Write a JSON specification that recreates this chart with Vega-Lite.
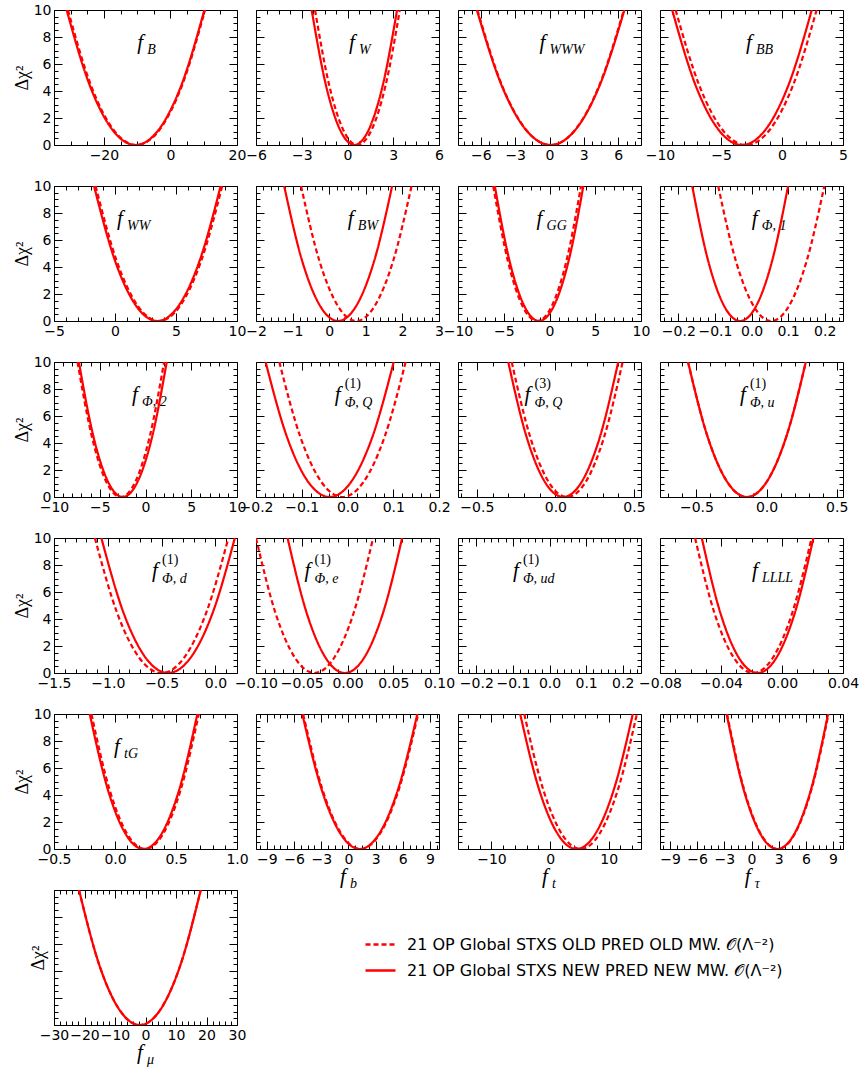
{
"$schema": "https://vega.github.io/schema/vega-lite/v6.json",
"padding": {"left": 12, "top": 2, "right": 0, "bottom": 0},
"autosize": {"type": "pad"},
"background": "white",
"bounds": "flush",
"columns": 4,
"spacing": {"row": 41, "column": 19},
"datasets": {
"c": [
{"p":"B","s":"N","x":-31.2,"y":10},{"p":"B","s":"N","x":-24.3,"y":4.444},{"p":"B","s":"N","x":-17.4,"y":1.111},{"p":"B","s":"N","x":-10.5,"y":0},{"p":"B","s":"N","x":-3.6,"y":1.111},{"p":"B","s":"N","x":3.3,"y":4.444},{"p":"B","s":"N","x":10.2,"y":10},
{"p":"B","s":"O","x":-30.8,"y":10},{"p":"B","s":"O","x":-23.93,"y":4.444},{"p":"B","s":"O","x":-17.07,"y":1.111},{"p":"B","s":"O","x":-10.2,"y":0},{"p":"B","s":"O","x":-3.33,"y":1.111},{"p":"B","s":"O","x":3.53,"y":4.444},{"p":"B","s":"O","x":10.4,"y":10},
{"p":"W","s":"N","x":-2.35,"y":10},{"p":"W","s":"N","x":-1.417,"y":4.444},{"p":"W","s":"N","x":-0.483,"y":1.111},{"p":"W","s":"N","x":0.45,"y":0},{"p":"W","s":"N","x":1.383,"y":1.111},{"p":"W","s":"N","x":2.317,"y":4.444},{"p":"W","s":"N","x":3.25,"y":10},
{"p":"W","s":"O","x":-2.13,"y":10},{"p":"W","s":"O","x":-1.203,"y":4.444},{"p":"W","s":"O","x":-0.277,"y":1.111},{"p":"W","s":"O","x":0.65,"y":0},{"p":"W","s":"O","x":1.577,"y":1.111},{"p":"W","s":"O","x":2.503,"y":4.444},{"p":"W","s":"O","x":3.43,"y":10},
{"p":"WWW","s":"N","x":-6.35,"y":10},{"p":"WWW","s":"N","x":-4.2,"y":4.444},{"p":"WWW","s":"N","x":-2.05,"y":1.111},{"p":"WWW","s":"N","x":0.1,"y":0},{"p":"WWW","s":"N","x":2.25,"y":1.111},{"p":"WWW","s":"N","x":4.4,"y":4.444},{"p":"WWW","s":"N","x":6.55,"y":10},
{"p":"WWW","s":"O","x":-6.3,"y":10},{"p":"WWW","s":"O","x":-4.167,"y":4.444},{"p":"WWW","s":"O","x":-2.033,"y":1.111},{"p":"WWW","s":"O","x":0.1,"y":0},{"p":"WWW","s":"O","x":2.233,"y":1.111},{"p":"WWW","s":"O","x":4.367,"y":4.444},{"p":"WWW","s":"O","x":6.5,"y":10},
{"p":"BB","s":"N","x":-9.0,"y":10},{"p":"BB","s":"N","x":-7.093,"y":4.444},{"p":"BB","s":"N","x":-5.187,"y":1.111},{"p":"BB","s":"N","x":-3.28,"y":0},{"p":"BB","s":"N","x":-1.373,"y":1.111},{"p":"BB","s":"N","x":0.533,"y":4.444},{"p":"BB","s":"N","x":2.44,"y":10},
{"p":"BB","s":"O","x":-8.72,"y":10},{"p":"BB","s":"O","x":-6.793,"y":4.444},{"p":"BB","s":"O","x":-4.867,"y":1.111},{"p":"BB","s":"O","x":-2.94,"y":0},{"p":"BB","s":"O","x":-1.013,"y":1.111},{"p":"BB","s":"O","x":0.913,"y":4.444},{"p":"BB","s":"O","x":2.84,"y":10},
{"p":"WW","s":"N","x":-1.72,"y":10},{"p":"WW","s":"N","x":0.01,"y":4.444},{"p":"WW","s":"N","x":1.74,"y":1.111},{"p":"WW","s":"N","x":3.47,"y":0},{"p":"WW","s":"N","x":5.2,"y":1.111},{"p":"WW","s":"N","x":6.93,"y":4.444},{"p":"WW","s":"N","x":8.66,"y":10},
{"p":"WW","s":"O","x":-1.59,"y":10},{"p":"WW","s":"O","x":0.14,"y":4.444},{"p":"WW","s":"O","x":1.87,"y":1.111},{"p":"WW","s":"O","x":3.6,"y":0},{"p":"WW","s":"O","x":5.33,"y":1.111},{"p":"WW","s":"O","x":7.06,"y":4.444},{"p":"WW","s":"O","x":8.79,"y":10},
{"p":"BW","s":"N","x":-1.23,"y":10},{"p":"BW","s":"N","x":-0.738,"y":4.444},{"p":"BW","s":"N","x":-0.247,"y":1.111},{"p":"BW","s":"N","x":0.245,"y":0},{"p":"BW","s":"N","x":0.737,"y":1.111},{"p":"BW","s":"N","x":1.228,"y":4.444},{"p":"BW","s":"N","x":1.72,"y":10},
{"p":"BW","s":"O","x":-0.77,"y":10},{"p":"BW","s":"O","x":-0.267,"y":4.444},{"p":"BW","s":"O","x":0.237,"y":1.111},{"p":"BW","s":"O","x":0.74,"y":0},{"p":"BW","s":"O","x":1.243,"y":1.111},{"p":"BW","s":"O","x":1.747,"y":4.444},{"p":"BW","s":"O","x":2.25,"y":10},
{"p":"GG","s":"N","x":-5.98,"y":10},{"p":"GG","s":"N","x":-4.367,"y":4.444},{"p":"GG","s":"N","x":-2.753,"y":1.111},{"p":"GG","s":"N","x":-1.14,"y":0},{"p":"GG","s":"N","x":0.473,"y":1.111},{"p":"GG","s":"N","x":2.087,"y":4.444},{"p":"GG","s":"N","x":3.7,"y":10},
{"p":"GG","s":"O","x":-6.15,"y":10},{"p":"GG","s":"O","x":-4.55,"y":4.444},{"p":"GG","s":"O","x":-2.95,"y":1.111},{"p":"GG","s":"O","x":-1.35,"y":0},{"p":"GG","s":"O","x":0.25,"y":1.111},{"p":"GG","s":"O","x":1.85,"y":4.444},{"p":"GG","s":"O","x":3.45,"y":10},
{"p":"P1","s":"N","x":-0.162,"y":10},{"p":"P1","s":"N","x":-0.1183,"y":4.444},{"p":"P1","s":"N","x":-0.0747,"y":1.111},{"p":"P1","s":"N","x":-0.031,"y":0},{"p":"P1","s":"N","x":0.0127,"y":1.111},{"p":"P1","s":"N","x":0.0563,"y":4.444},{"p":"P1","s":"N","x":0.1,"y":10},
{"p":"P1","s":"O","x":-0.091,"y":10},{"p":"P1","s":"O","x":-0.0427,"y":4.444},{"p":"P1","s":"O","x":0.0057,"y":1.111},{"p":"P1","s":"O","x":0.054,"y":0},{"p":"P1","s":"O","x":0.1023,"y":1.111},{"p":"P1","s":"O","x":0.1507,"y":4.444},{"p":"P1","s":"O","x":0.199,"y":10},
{"p":"P2","s":"N","x":-7.28,"y":10},{"p":"P2","s":"N","x":-5.68,"y":4.444},{"p":"P2","s":"N","x":-4.08,"y":1.111},{"p":"P2","s":"N","x":-2.48,"y":0},{"p":"P2","s":"N","x":-0.88,"y":1.111},{"p":"P2","s":"N","x":0.72,"y":4.444},{"p":"P2","s":"N","x":2.32,"y":10},
{"p":"P2","s":"O","x":-7.43,"y":10},{"p":"P2","s":"O","x":-5.853,"y":4.444},{"p":"P2","s":"O","x":-4.277,"y":1.111},{"p":"P2","s":"O","x":-2.7,"y":0},{"p":"P2","s":"O","x":-1.123,"y":1.111},{"p":"P2","s":"O","x":0.453,"y":4.444},{"p":"P2","s":"O","x":2.03,"y":10},
{"p":"PQ1","s":"N","x":-0.179,"y":10},{"p":"PQ1","s":"N","x":-0.1323,"y":4.444},{"p":"PQ1","s":"N","x":-0.0857,"y":1.111},{"p":"PQ1","s":"N","x":-0.039,"y":0},{"p":"PQ1","s":"N","x":0.0077,"y":1.111},{"p":"PQ1","s":"N","x":0.0543,"y":4.444},{"p":"PQ1","s":"N","x":0.101,"y":10},
{"p":"PQ1","s":"O","x":-0.149,"y":10},{"p":"PQ1","s":"O","x":-0.103,"y":4.444},{"p":"PQ1","s":"O","x":-0.057,"y":1.111},{"p":"PQ1","s":"O","x":-0.011,"y":0},{"p":"PQ1","s":"O","x":0.035,"y":1.111},{"p":"PQ1","s":"O","x":0.081,"y":4.444},{"p":"PQ1","s":"O","x":0.127,"y":10},
{"p":"PQ3","s":"N","x":-0.3,"y":10},{"p":"PQ3","s":"N","x":-0.1833,"y":4.444},{"p":"PQ3","s":"N","x":-0.0667,"y":1.111},{"p":"PQ3","s":"N","x":0.05,"y":0},{"p":"PQ3","s":"N","x":0.1667,"y":1.111},{"p":"PQ3","s":"N","x":0.2833,"y":4.444},{"p":"PQ3","s":"N","x":0.4,"y":10},
{"p":"PQ3","s":"O","x":-0.278,"y":10},{"p":"PQ3","s":"O","x":-0.1603,"y":4.444},{"p":"PQ3","s":"O","x":-0.0427,"y":1.111},{"p":"PQ3","s":"O","x":0.075,"y":0},{"p":"PQ3","s":"O","x":0.1927,"y":1.111},{"p":"PQ3","s":"O","x":0.3103,"y":4.444},{"p":"PQ3","s":"O","x":0.428,"y":10},
{"p":"Pu","s":"N","x":-0.56,"y":10},{"p":"Pu","s":"N","x":-0.42,"y":4.444},{"p":"Pu","s":"N","x":-0.28,"y":1.111},{"p":"Pu","s":"N","x":-0.14,"y":0},{"p":"Pu","s":"N","x":0.0,"y":1.111},{"p":"Pu","s":"N","x":0.14,"y":4.444},{"p":"Pu","s":"N","x":0.28,"y":10},
{"p":"Pu","s":"O","x":-0.56,"y":10},{"p":"Pu","s":"O","x":-0.42,"y":4.444},{"p":"Pu","s":"O","x":-0.28,"y":1.111},{"p":"Pu","s":"O","x":-0.14,"y":0},{"p":"Pu","s":"O","x":0.0,"y":1.111},{"p":"Pu","s":"O","x":0.14,"y":4.444},{"p":"Pu","s":"O","x":0.28,"y":10},
{"p":"Pd","s":"N","x":-1.06,"y":10},{"p":"Pd","s":"N","x":-0.8533,"y":4.444},{"p":"Pd","s":"N","x":-0.6467,"y":1.111},{"p":"Pd","s":"N","x":-0.44,"y":0},{"p":"Pd","s":"N","x":-0.2333,"y":1.111},{"p":"Pd","s":"N","x":-0.0267,"y":4.444},{"p":"Pd","s":"N","x":0.18,"y":10},
{"p":"Pd","s":"O","x":-1.12,"y":10},{"p":"Pd","s":"O","x":-0.9133,"y":4.444},{"p":"Pd","s":"O","x":-0.7067,"y":1.111},{"p":"Pd","s":"O","x":-0.5,"y":0},{"p":"Pd","s":"O","x":-0.2933,"y":1.111},{"p":"Pd","s":"O","x":-0.0867,"y":4.444},{"p":"Pd","s":"O","x":0.12,"y":10},
{"p":"Pe","s":"N","x":-0.0655,"y":10},{"p":"Pe","s":"N","x":-0.0446,"y":4.444},{"p":"Pe","s":"N","x":-0.0238,"y":1.111},{"p":"Pe","s":"N","x":-0.0029,"y":0},{"p":"Pe","s":"N","x":0.018,"y":1.111},{"p":"Pe","s":"N","x":0.0388,"y":4.444},{"p":"Pe","s":"N","x":0.0597,"y":10},
{"p":"Pe","s":"O","x":-0.1,"y":10},{"p":"Pe","s":"O","x":-0.0787,"y":4.444},{"p":"Pe","s":"O","x":-0.0573,"y":1.111},{"p":"Pe","s":"O","x":-0.036,"y":0},{"p":"Pe","s":"O","x":-0.0147,"y":1.111},{"p":"Pe","s":"O","x":0.0067,"y":4.444},{"p":"Pe","s":"O","x":0.028,"y":10},
{"p":"LLLL","s":"N","x":-0.0526,"y":10},{"p":"LLLL","s":"N","x":-0.0404,"y":4.444},{"p":"LLLL","s":"N","x":-0.0282,"y":1.111},{"p":"LLLL","s":"N","x":-0.016,"y":0},{"p":"LLLL","s":"N","x":-0.0038,"y":1.111},{"p":"LLLL","s":"N","x":0.0084,"y":4.444},{"p":"LLLL","s":"N","x":0.0206,"y":10},
{"p":"LLLL","s":"O","x":-0.057,"y":10},{"p":"LLLL","s":"O","x":-0.0443,"y":4.444},{"p":"LLLL","s":"O","x":-0.0315,"y":1.111},{"p":"LLLL","s":"O","x":-0.0188,"y":0},{"p":"LLLL","s":"O","x":-0.0061,"y":1.111},{"p":"LLLL","s":"O","x":0.0067,"y":4.444},{"p":"LLLL","s":"O","x":0.0194,"y":10},
{"p":"tG","s":"N","x":-0.207,"y":10},{"p":"tG","s":"N","x":-0.06,"y":4.444},{"p":"tG","s":"N","x":0.087,"y":1.111},{"p":"tG","s":"N","x":0.234,"y":0},{"p":"tG","s":"N","x":0.381,"y":1.111},{"p":"tG","s":"N","x":0.528,"y":4.444},{"p":"tG","s":"N","x":0.675,"y":10},
{"p":"tG","s":"O","x":-0.193,"y":10},{"p":"tG","s":"O","x":-0.0463,"y":4.444},{"p":"tG","s":"O","x":0.1003,"y":1.111},{"p":"tG","s":"O","x":0.247,"y":0},{"p":"tG","s":"O","x":0.3937,"y":1.111},{"p":"tG","s":"O","x":0.5403,"y":4.444},{"p":"tG","s":"O","x":0.687,"y":10},
{"p":"b","s":"N","x":-5.09,"y":10},{"p":"b","s":"N","x":-2.973,"y":4.444},{"p":"b","s":"N","x":-0.857,"y":1.111},{"p":"b","s":"N","x":1.26,"y":0},{"p":"b","s":"N","x":3.377,"y":1.111},{"p":"b","s":"N","x":5.493,"y":4.444},{"p":"b","s":"N","x":7.61,"y":10},
{"p":"b","s":"O","x":-5.0,"y":10},{"p":"b","s":"O","x":-2.883,"y":4.444},{"p":"b","s":"O","x":-0.767,"y":1.111},{"p":"b","s":"O","x":1.35,"y":0},{"p":"b","s":"O","x":3.467,"y":1.111},{"p":"b","s":"O","x":5.583,"y":4.444},{"p":"b","s":"O","x":7.7,"y":10},
{"p":"t","s":"N","x":-5.1,"y":10},{"p":"t","s":"N","x":-1.9,"y":4.444},{"p":"t","s":"N","x":1.3,"y":1.111},{"p":"t","s":"N","x":4.5,"y":0},{"p":"t","s":"N","x":7.7,"y":1.111},{"p":"t","s":"N","x":10.9,"y":4.444},{"p":"t","s":"N","x":14.1,"y":10},
{"p":"t","s":"O","x":-4.4,"y":10},{"p":"t","s":"O","x":-1.2,"y":4.444},{"p":"t","s":"O","x":2.0,"y":1.111},{"p":"t","s":"O","x":5.2,"y":0},{"p":"t","s":"O","x":8.4,"y":1.111},{"p":"t","s":"O","x":11.6,"y":4.444},{"p":"t","s":"O","x":14.8,"y":10},
{"p":"tau","s":"N","x":-2.75,"y":10},{"p":"tau","s":"N","x":-0.883,"y":4.444},{"p":"tau","s":"N","x":0.983,"y":1.111},{"p":"tau","s":"N","x":2.85,"y":0},{"p":"tau","s":"N","x":4.717,"y":1.111},{"p":"tau","s":"N","x":6.583,"y":4.444},{"p":"tau","s":"N","x":8.45,"y":10},
{"p":"tau","s":"O","x":-2.7,"y":10},{"p":"tau","s":"O","x":-0.833,"y":4.444},{"p":"tau","s":"O","x":1.033,"y":1.111},{"p":"tau","s":"O","x":2.9,"y":0},{"p":"tau","s":"O","x":4.767,"y":1.111},{"p":"tau","s":"O","x":6.633,"y":4.444},{"p":"tau","s":"O","x":8.5,"y":10},
{"p":"mu","s":"N","x":-21.8,"y":10},{"p":"mu","s":"N","x":-15.15,"y":4.444},{"p":"mu","s":"N","x":-8.5,"y":1.111},{"p":"mu","s":"N","x":-1.85,"y":0},{"p":"mu","s":"N","x":4.8,"y":1.111},{"p":"mu","s":"N","x":11.45,"y":4.444},{"p":"mu","s":"N","x":18.1,"y":10},
{"p":"mu","s":"O","x":-21.8,"y":10},{"p":"mu","s":"O","x":-15.15,"y":4.444},{"p":"mu","s":"O","x":-8.5,"y":1.111},{"p":"mu","s":"O","x":-1.85,"y":0},{"p":"mu","s":"O","x":4.8,"y":1.111},{"p":"mu","s":"O","x":11.45,"y":4.444},{"p":"mu","s":"O","x":18.1,"y":10}
]
},
"concat": [
{"width":183,"height":135,"layer":[
 {"data":{"name":"c"},"transform":[{"filter":"datum.p == 'B'"}],"mark":{"type":"line","color":"#ff0000","strokeWidth":2.2,"interpolate":"monotone","clip":true},
  "encoding":{
   "x":{"field":"x","type":"quantitative","scale":{"domain":[-35,20],"nice":false,"zero":false},"axis":{"orient":"bottom","values":[-35,-30,-25,-20,-15,-10,-5,0,5,10,15,20],"format":".0f","labelExpr":"abs(datum.value/20-round(datum.value/20))<1e-6 ? datum.label : ''","tickSize":{"condition":{"test":"abs(datum.value/20-round(datum.value/20))<1e-6","value":-8},"value":-4},"labelPadding":11,"title":null}},
   "y":{"field":"y","type":"quantitative","scale":{"domain":[0,10],"nice":false},"axis":{"orient":"left","values":[0,0.5,1,1.5,2,2.5,3,3.5,4,4.5,5,5.5,6,6.5,7,7.5,8,8.5,9,9.5,10],"format":".0f","labelExpr":"datum.value % 2 == 0 ? datum.label : ''","tickSize":{"condition":{"test":"datum.value % 2 == 0","value":-8},"value":-4},"labelPadding":11,"title":"Δχ²","titlePadding":2}},
   "strokeDash":{"field":"s","type":"nominal","scale":{"domain":["O","N"],"range":[[5,3],[1,0]]},"legend":{"orient":"none","legendX":310,"legendY":918,"title":null,"labelExpr":"datum.value == 'O' ? '21 OP Global STXS OLD PRED OLD MW. 𝒪(Λ⁻²)' : '21 OP Global STXS NEW PRED NEW MW. 𝒪(Λ⁻²)'","symbolType":"stroke","symbolSize":900,"symbolStrokeWidth":2.5,"symbolStrokeColor":"#ff0000","labelFont":"DejaVu Sans","labelFontSize":16,"labelColor":"#000","labelOffset":10,"rowPadding":1,"labelLimit":600}}}},
 {"data":{"values":[{}]},"mark":{"type":"text","text":"f","font":"Liberation Serif","fontStyle":"italic","fontSize":21,"align":"left","baseline":"alphabetic"},
  "encoding":{"x":{"datum":-10,"type":"quantitative","axis":{"orient":"top","values":[-35,-30,-25,-20,-15,-10,-5,0,5,10,15,20],"labels":false,"tickSize":{"condition":{"test":"abs(datum.value/20-round(datum.value/20))<1e-6","value":-8},"value":-4},"title":null}},
   "y":{"datum":7.1,"type":"quantitative","axis":{"orient":"right","values":[0,0.5,1,1.5,2,2.5,3,3.5,4,4.5,5,5.5,6,6.5,7,7.5,8,8.5,9,9.5,10],"labels":false,"tickSize":{"condition":{"test":"datum.value % 2 == 0","value":-8},"value":-4},"title":null}}}},
 {"data":{"values":[{}]},"mark":{"type":"text","text":"B","font":"Liberation Serif","fontStyle":"italic","fontSize":14,"align":"left","baseline":"alphabetic","dx":10,"dy":5},
  "encoding":{"x":{"datum":-10,"type":"quantitative","axis":null},"y":{"datum":7.1,"type":"quantitative","axis":null}}}
],"resolve":{"axis":{"x":"independent","y":"independent"}}},

{"width":183,"height":135,"layer":[
 {"data":{"name":"c"},"transform":[{"filter":"datum.p == 'W'"}],"mark":{"type":"line","color":"#ff0000","strokeWidth":2.2,"interpolate":"monotone","clip":true},
  "encoding":{
   "x":{"field":"x","type":"quantitative","scale":{"domain":[-6,6],"nice":false,"zero":false},"axis":{"orient":"bottom","values":[-6,-5.25,-4.5,-3.75,-3,-2.25,-1.5,-0.75,0,0.75,1.5,2.25,3,3.75,4.5,5.25,6],"format":".0f","labelExpr":"abs(datum.value/3-round(datum.value/3))<1e-6 ? datum.label : ''","tickSize":{"condition":{"test":"abs(datum.value/3-round(datum.value/3))<1e-6","value":-8},"value":-4},"labelPadding":11,"title":null}},
   "y":{"field":"y","type":"quantitative","scale":{"domain":[0,10],"nice":false},"axis":{"orient":"left","values":[0,0.5,1,1.5,2,2.5,3,3.5,4,4.5,5,5.5,6,6.5,7,7.5,8,8.5,9,9.5,10],"labels":false,"tickSize":{"condition":{"test":"datum.value % 2 == 0","value":-8},"value":-4},"title":null}},
   "strokeDash":{"field":"s","type":"nominal","scale":{"domain":["O","N"],"range":[[5,3],[1,0]]}}}},
 {"data":{"values":[{}]},"mark":{"type":"text","text":"f","font":"Liberation Serif","fontStyle":"italic","fontSize":21,"align":"left","baseline":"alphabetic"},
  "encoding":{"x":{"datum":0.1,"type":"quantitative","axis":{"orient":"top","values":[-6,-5.25,-4.5,-3.75,-3,-2.25,-1.5,-0.75,0,0.75,1.5,2.25,3,3.75,4.5,5.25,6],"labels":false,"tickSize":{"condition":{"test":"abs(datum.value/3-round(datum.value/3))<1e-6","value":-8},"value":-4},"title":null}},
   "y":{"datum":7.1,"type":"quantitative","axis":{"orient":"right","values":[0,0.5,1,1.5,2,2.5,3,3.5,4,4.5,5,5.5,6,6.5,7,7.5,8,8.5,9,9.5,10],"labels":false,"tickSize":{"condition":{"test":"datum.value % 2 == 0","value":-8},"value":-4},"title":null}}}},
 {"data":{"values":[{}]},"mark":{"type":"text","text":"W","font":"Liberation Serif","fontStyle":"italic","fontSize":14,"align":"left","baseline":"alphabetic","dx":10,"dy":5},
  "encoding":{"x":{"datum":0.1,"type":"quantitative","axis":null},"y":{"datum":7.1,"type":"quantitative","axis":null}}}
],"resolve":{"axis":{"x":"independent","y":"independent"}}},

{"width":183,"height":135,"layer":[
 {"data":{"name":"c"},"transform":[{"filter":"datum.p == 'WWW'"}],"mark":{"type":"line","color":"#ff0000","strokeWidth":2.2,"interpolate":"monotone","clip":true},
  "encoding":{
   "x":{"field":"x","type":"quantitative","scale":{"domain":[-8,8],"nice":false,"zero":false},"axis":{"orient":"bottom","values":[-7.5,-6.75,-6,-5.25,-4.5,-3.75,-3,-2.25,-1.5,-0.75,0,0.75,1.5,2.25,3,3.75,4.5,5.25,6,6.75,7.5],"format":".0f","labelExpr":"abs(datum.value/3-round(datum.value/3))<1e-6 ? datum.label : ''","tickSize":{"condition":{"test":"abs(datum.value/3-round(datum.value/3))<1e-6","value":-8},"value":-4},"labelPadding":11,"title":null}},
   "y":{"field":"y","type":"quantitative","scale":{"domain":[0,10],"nice":false},"axis":{"orient":"left","values":[0,0.5,1,1.5,2,2.5,3,3.5,4,4.5,5,5.5,6,6.5,7,7.5,8,8.5,9,9.5,10],"labels":false,"tickSize":{"condition":{"test":"datum.value % 2 == 0","value":-8},"value":-4},"title":null}},
   "strokeDash":{"field":"s","type":"nominal","scale":{"domain":["O","N"],"range":[[5,3],[1,0]]}}}},
 {"data":{"values":[{}]},"mark":{"type":"text","text":"f","font":"Liberation Serif","fontStyle":"italic","fontSize":21,"align":"left","baseline":"alphabetic"},
  "encoding":{"x":{"datum":-0.87,"type":"quantitative","axis":{"orient":"top","values":[-7.5,-6.75,-6,-5.25,-4.5,-3.75,-3,-2.25,-1.5,-0.75,0,0.75,1.5,2.25,3,3.75,4.5,5.25,6,6.75,7.5],"labels":false,"tickSize":{"condition":{"test":"abs(datum.value/3-round(datum.value/3))<1e-6","value":-8},"value":-4},"title":null}},
   "y":{"datum":7.1,"type":"quantitative","axis":{"orient":"right","values":[0,0.5,1,1.5,2,2.5,3,3.5,4,4.5,5,5.5,6,6.5,7,7.5,8,8.5,9,9.5,10],"labels":false,"tickSize":{"condition":{"test":"datum.value % 2 == 0","value":-8},"value":-4},"title":null}}}},
 {"data":{"values":[{}]},"mark":{"type":"text","text":"WWW","font":"Liberation Serif","fontStyle":"italic","fontSize":14,"align":"left","baseline":"alphabetic","dx":10,"dy":5},
  "encoding":{"x":{"datum":-0.87,"type":"quantitative","axis":null},"y":{"datum":7.1,"type":"quantitative","axis":null}}}
],"resolve":{"axis":{"x":"independent","y":"independent"}}},

{"width":183,"height":135,"layer":[
 {"data":{"name":"c"},"transform":[{"filter":"datum.p == 'BB'"}],"mark":{"type":"line","color":"#ff0000","strokeWidth":2.2,"interpolate":"monotone","clip":true},
  "encoding":{
   "x":{"field":"x","type":"quantitative","scale":{"domain":[-10,5],"nice":false,"zero":false},"axis":{"orient":"bottom","values":[-10,-9,-8,-7,-6,-5,-4,-3,-2,-1,0,1,2,3,4,5],"format":".0f","labelExpr":"abs(datum.value/5-round(datum.value/5))<1e-6 ? datum.label : ''","tickSize":{"condition":{"test":"abs(datum.value/5-round(datum.value/5))<1e-6","value":-8},"value":-4},"labelPadding":11,"title":null}},
   "y":{"field":"y","type":"quantitative","scale":{"domain":[0,10],"nice":false},"axis":{"orient":"left","values":[0,0.5,1,1.5,2,2.5,3,3.5,4,4.5,5,5.5,6,6.5,7,7.5,8,8.5,9,9.5,10],"labels":false,"tickSize":{"condition":{"test":"datum.value % 2 == 0","value":-8},"value":-4},"title":null}},
   "strokeDash":{"field":"s","type":"nominal","scale":{"domain":["O","N"],"range":[[5,3],[1,0]]}}}},
 {"data":{"values":[{}]},"mark":{"type":"text","text":"f","font":"Liberation Serif","fontStyle":"italic","fontSize":21,"align":"left","baseline":"alphabetic"},
  "encoding":{"x":{"datum":-2.95,"type":"quantitative","axis":{"orient":"top","values":[-10,-9,-8,-7,-6,-5,-4,-3,-2,-1,0,1,2,3,4,5],"labels":false,"tickSize":{"condition":{"test":"abs(datum.value/5-round(datum.value/5))<1e-6","value":-8},"value":-4},"title":null}},
   "y":{"datum":7.1,"type":"quantitative","axis":{"orient":"right","values":[0,0.5,1,1.5,2,2.5,3,3.5,4,4.5,5,5.5,6,6.5,7,7.5,8,8.5,9,9.5,10],"labels":false,"tickSize":{"condition":{"test":"datum.value % 2 == 0","value":-8},"value":-4},"title":null}}}},
 {"data":{"values":[{}]},"mark":{"type":"text","text":"BB","font":"Liberation Serif","fontStyle":"italic","fontSize":14,"align":"left","baseline":"alphabetic","dx":10,"dy":5},
  "encoding":{"x":{"datum":-2.95,"type":"quantitative","axis":null},"y":{"datum":7.1,"type":"quantitative","axis":null}}}
],"resolve":{"axis":{"x":"independent","y":"independent"}}},

{"width":183,"height":135,"layer":[
 {"data":{"name":"c"},"transform":[{"filter":"datum.p == 'WW'"}],"mark":{"type":"line","color":"#ff0000","strokeWidth":2.2,"interpolate":"monotone","clip":true},
  "encoding":{
   "x":{"field":"x","type":"quantitative","scale":{"domain":[-5,10],"nice":false,"zero":false},"axis":{"orient":"bottom","values":[-5,-4,-3,-2,-1,0,1,2,3,4,5,6,7,8,9,10],"format":".0f","labelExpr":"abs(datum.value/5-round(datum.value/5))<1e-6 ? datum.label : ''","tickSize":{"condition":{"test":"abs(datum.value/5-round(datum.value/5))<1e-6","value":-8},"value":-4},"labelPadding":11,"title":null}},
   "y":{"field":"y","type":"quantitative","scale":{"domain":[0,10],"nice":false},"axis":{"orient":"left","values":[0,0.5,1,1.5,2,2.5,3,3.5,4,4.5,5,5.5,6,6.5,7,7.5,8,8.5,9,9.5,10],"format":".0f","labelExpr":"datum.value % 2 == 0 ? datum.label : ''","tickSize":{"condition":{"test":"datum.value % 2 == 0","value":-8},"value":-4},"labelPadding":11,"title":"Δχ²","titlePadding":2}},
   "strokeDash":{"field":"s","type":"nominal","scale":{"domain":["O","N"],"range":[[5,3],[1,0]]}}}},
 {"data":{"values":[{}]},"mark":{"type":"text","text":"f","font":"Liberation Serif","fontStyle":"italic","fontSize":21,"align":"left","baseline":"alphabetic"},
  "encoding":{"x":{"datum":0.17,"type":"quantitative","axis":{"orient":"top","values":[-5,-4,-3,-2,-1,0,1,2,3,4,5,6,7,8,9,10],"labels":false,"tickSize":{"condition":{"test":"abs(datum.value/5-round(datum.value/5))<1e-6","value":-8},"value":-4},"title":null}},
   "y":{"datum":7.1,"type":"quantitative","axis":{"orient":"right","values":[0,0.5,1,1.5,2,2.5,3,3.5,4,4.5,5,5.5,6,6.5,7,7.5,8,8.5,9,9.5,10],"labels":false,"tickSize":{"condition":{"test":"datum.value % 2 == 0","value":-8},"value":-4},"title":null}}}},
 {"data":{"values":[{}]},"mark":{"type":"text","text":"WW","font":"Liberation Serif","fontStyle":"italic","fontSize":14,"align":"left","baseline":"alphabetic","dx":10,"dy":5},
  "encoding":{"x":{"datum":0.17,"type":"quantitative","axis":null},"y":{"datum":7.1,"type":"quantitative","axis":null}}}
],"resolve":{"axis":{"x":"independent","y":"independent"}}},

{"width":183,"height":135,"layer":[
 {"data":{"name":"c"},"transform":[{"filter":"datum.p == 'BW'"}],"mark":{"type":"line","color":"#ff0000","strokeWidth":2.2,"interpolate":"monotone","clip":true},
  "encoding":{
   "x":{"field":"x","type":"quantitative","scale":{"domain":[-2,3],"nice":false,"zero":false},"axis":{"orient":"bottom","values":[-2,-1.8,-1.6,-1.4,-1.2,-1,-0.8,-0.6,-0.4,-0.2,0,0.2,0.4,0.6,0.8,1,1.2,1.4,1.6,1.8,2,2.2,2.4,2.6,2.8,3],"format":".0f","labelExpr":"abs(datum.value/1-round(datum.value/1))<1e-6 ? datum.label : ''","tickSize":{"condition":{"test":"abs(datum.value/1-round(datum.value/1))<1e-6","value":-8},"value":-4},"labelPadding":11,"title":null}},
   "y":{"field":"y","type":"quantitative","scale":{"domain":[0,10],"nice":false},"axis":{"orient":"left","values":[0,0.5,1,1.5,2,2.5,3,3.5,4,4.5,5,5.5,6,6.5,7,7.5,8,8.5,9,9.5,10],"labels":false,"tickSize":{"condition":{"test":"datum.value % 2 == 0","value":-8},"value":-4},"title":null}},
   "strokeDash":{"field":"s","type":"nominal","scale":{"domain":["O","N"],"range":[[5,3],[1,0]]}}}},
 {"data":{"values":[{}]},"mark":{"type":"text","text":"f","font":"Liberation Serif","fontStyle":"italic","fontSize":21,"align":"left","baseline":"alphabetic"},
  "encoding":{"x":{"datum":0.51,"type":"quantitative","axis":{"orient":"top","values":[-2,-1.8,-1.6,-1.4,-1.2,-1,-0.8,-0.6,-0.4,-0.2,0,0.2,0.4,0.6,0.8,1,1.2,1.4,1.6,1.8,2,2.2,2.4,2.6,2.8,3],"labels":false,"tickSize":{"condition":{"test":"abs(datum.value/1-round(datum.value/1))<1e-6","value":-8},"value":-4},"title":null}},
   "y":{"datum":7.1,"type":"quantitative","axis":{"orient":"right","values":[0,0.5,1,1.5,2,2.5,3,3.5,4,4.5,5,5.5,6,6.5,7,7.5,8,8.5,9,9.5,10],"labels":false,"tickSize":{"condition":{"test":"datum.value % 2 == 0","value":-8},"value":-4},"title":null}}}},
 {"data":{"values":[{}]},"mark":{"type":"text","text":"BW","font":"Liberation Serif","fontStyle":"italic","fontSize":14,"align":"left","baseline":"alphabetic","dx":10,"dy":5},
  "encoding":{"x":{"datum":0.51,"type":"quantitative","axis":null},"y":{"datum":7.1,"type":"quantitative","axis":null}}}
],"resolve":{"axis":{"x":"independent","y":"independent"}}},

{"width":183,"height":135,"layer":[
 {"data":{"name":"c"},"transform":[{"filter":"datum.p == 'GG'"}],"mark":{"type":"line","color":"#ff0000","strokeWidth":2.2,"interpolate":"monotone","clip":true},
  "encoding":{
   "x":{"field":"x","type":"quantitative","scale":{"domain":[-10,10],"nice":false,"zero":false},"axis":{"orient":"bottom","values":[-10,-9,-8,-7,-6,-5,-4,-3,-2,-1,0,1,2,3,4,5,6,7,8,9,10],"format":".0f","labelExpr":"abs(datum.value/5-round(datum.value/5))<1e-6 ? datum.label : ''","tickSize":{"condition":{"test":"abs(datum.value/5-round(datum.value/5))<1e-6","value":-8},"value":-4},"labelPadding":11,"title":null}},
   "y":{"field":"y","type":"quantitative","scale":{"domain":[0,10],"nice":false},"axis":{"orient":"left","values":[0,0.5,1,1.5,2,2.5,3,3.5,4,4.5,5,5.5,6,6.5,7,7.5,8,8.5,9,9.5,10],"labels":false,"tickSize":{"condition":{"test":"datum.value % 2 == 0","value":-8},"value":-4},"title":null}},
   "strokeDash":{"field":"s","type":"nominal","scale":{"domain":["O","N"],"range":[[5,3],[1,0]]}}}},
 {"data":{"values":[{}]},"mark":{"type":"text","text":"f","font":"Liberation Serif","fontStyle":"italic","fontSize":21,"align":"left","baseline":"alphabetic"},
  "encoding":{"x":{"datum":-1.41,"type":"quantitative","axis":{"orient":"top","values":[-10,-9,-8,-7,-6,-5,-4,-3,-2,-1,0,1,2,3,4,5,6,7,8,9,10],"labels":false,"tickSize":{"condition":{"test":"abs(datum.value/5-round(datum.value/5))<1e-6","value":-8},"value":-4},"title":null}},
   "y":{"datum":7.1,"type":"quantitative","axis":{"orient":"right","values":[0,0.5,1,1.5,2,2.5,3,3.5,4,4.5,5,5.5,6,6.5,7,7.5,8,8.5,9,9.5,10],"labels":false,"tickSize":{"condition":{"test":"datum.value % 2 == 0","value":-8},"value":-4},"title":null}}}},
 {"data":{"values":[{}]},"mark":{"type":"text","text":"GG","font":"Liberation Serif","fontStyle":"italic","fontSize":14,"align":"left","baseline":"alphabetic","dx":10,"dy":5},
  "encoding":{"x":{"datum":-1.41,"type":"quantitative","axis":null},"y":{"datum":7.1,"type":"quantitative","axis":null}}}
],"resolve":{"axis":{"x":"independent","y":"independent"}}},

{"width":183,"height":135,"layer":[
 {"data":{"name":"c"},"transform":[{"filter":"datum.p == 'P1'"}],"mark":{"type":"line","color":"#ff0000","strokeWidth":2.2,"interpolate":"monotone","clip":true},
  "encoding":{
   "x":{"field":"x","type":"quantitative","scale":{"domain":[-0.25,0.25],"nice":false,"zero":false},"axis":{"orient":"bottom","values":[-0.24,-0.22,-0.2,-0.18,-0.16,-0.14,-0.12,-0.1,-0.08,-0.06,-0.04,-0.02,0,0.02,0.04,0.06,0.08,0.1,0.12,0.14,0.16,0.18,0.2,0.22,0.24],"format":".1f","labelExpr":"abs(datum.value/0.1-round(datum.value/0.1))<1e-6 ? datum.label : ''","tickSize":{"condition":{"test":"abs(datum.value/0.1-round(datum.value/0.1))<1e-6","value":-8},"value":-4},"labelPadding":11,"title":null}},
   "y":{"field":"y","type":"quantitative","scale":{"domain":[0,10],"nice":false},"axis":{"orient":"left","values":[0,0.5,1,1.5,2,2.5,3,3.5,4,4.5,5,5.5,6,6.5,7,7.5,8,8.5,9,9.5,10],"labels":false,"tickSize":{"condition":{"test":"datum.value % 2 == 0","value":-8},"value":-4},"title":null}},
   "strokeDash":{"field":"s","type":"nominal","scale":{"domain":["O","N"],"range":[[5,3],[1,0]]}}}},
 {"data":{"values":[{}]},"mark":{"type":"text","text":"f","font":"Liberation Serif","fontStyle":"italic","fontSize":21,"align":"left","baseline":"alphabetic"},
  "encoding":{"x":{"datum":0.001,"type":"quantitative","axis":{"orient":"top","values":[-0.24,-0.22,-0.2,-0.18,-0.16,-0.14,-0.12,-0.1,-0.08,-0.06,-0.04,-0.02,0,0.02,0.04,0.06,0.08,0.1,0.12,0.14,0.16,0.18,0.2,0.22,0.24],"labels":false,"tickSize":{"condition":{"test":"abs(datum.value/0.1-round(datum.value/0.1))<1e-6","value":-8},"value":-4},"title":null}},
   "y":{"datum":7.1,"type":"quantitative","axis":{"orient":"right","values":[0,0.5,1,1.5,2,2.5,3,3.5,4,4.5,5,5.5,6,6.5,7,7.5,8,8.5,9,9.5,10],"labels":false,"tickSize":{"condition":{"test":"datum.value % 2 == 0","value":-8},"value":-4},"title":null}}}},
 {"data":{"values":[{}]},"mark":{"type":"text","text":"Φ, 1","font":"Liberation Serif","fontStyle":"italic","fontSize":14,"align":"left","baseline":"alphabetic","dx":10,"dy":5},
  "encoding":{"x":{"datum":0.001,"type":"quantitative","axis":null},"y":{"datum":7.1,"type":"quantitative","axis":null}}}
],"resolve":{"axis":{"x":"independent","y":"independent"}}},

{"width":183,"height":135,"layer":[
 {"data":{"name":"c"},"transform":[{"filter":"datum.p == 'P2'"}],"mark":{"type":"line","color":"#ff0000","strokeWidth":2.2,"interpolate":"monotone","clip":true},
  "encoding":{
   "x":{"field":"x","type":"quantitative","scale":{"domain":[-10,10],"nice":false,"zero":false},"axis":{"orient":"bottom","values":[-10,-9,-8,-7,-6,-5,-4,-3,-2,-1,0,1,2,3,4,5,6,7,8,9,10],"format":".0f","labelExpr":"abs(datum.value/5-round(datum.value/5))<1e-6 ? datum.label : ''","tickSize":{"condition":{"test":"abs(datum.value/5-round(datum.value/5))<1e-6","value":-8},"value":-4},"labelPadding":11,"title":null}},
   "y":{"field":"y","type":"quantitative","scale":{"domain":[0,10],"nice":false},"axis":{"orient":"left","values":[0,0.5,1,1.5,2,2.5,3,3.5,4,4.5,5,5.5,6,6.5,7,7.5,8,8.5,9,9.5,10],"format":".0f","labelExpr":"datum.value % 2 == 0 ? datum.label : ''","tickSize":{"condition":{"test":"datum.value % 2 == 0","value":-8},"value":-4},"labelPadding":11,"title":"Δχ²","titlePadding":2}},
   "strokeDash":{"field":"s","type":"nominal","scale":{"domain":["O","N"],"range":[[5,3],[1,0]]}}}},
 {"data":{"values":[{}]},"mark":{"type":"text","text":"f","font":"Liberation Serif","fontStyle":"italic","fontSize":21,"align":"left","baseline":"alphabetic"},
  "encoding":{"x":{"datum":-1.47,"type":"quantitative","axis":{"orient":"top","values":[-10,-9,-8,-7,-6,-5,-4,-3,-2,-1,0,1,2,3,4,5,6,7,8,9,10],"labels":false,"tickSize":{"condition":{"test":"abs(datum.value/5-round(datum.value/5))<1e-6","value":-8},"value":-4},"title":null}},
   "y":{"datum":7.1,"type":"quantitative","axis":{"orient":"right","values":[0,0.5,1,1.5,2,2.5,3,3.5,4,4.5,5,5.5,6,6.5,7,7.5,8,8.5,9,9.5,10],"labels":false,"tickSize":{"condition":{"test":"datum.value % 2 == 0","value":-8},"value":-4},"title":null}}}},
 {"data":{"values":[{}]},"mark":{"type":"text","text":"Φ, 2","font":"Liberation Serif","fontStyle":"italic","fontSize":14,"align":"left","baseline":"alphabetic","dx":10,"dy":5},
  "encoding":{"x":{"datum":-1.47,"type":"quantitative","axis":null},"y":{"datum":7.1,"type":"quantitative","axis":null}}}
],"resolve":{"axis":{"x":"independent","y":"independent"}}},

{"width":183,"height":135,"layer":[
 {"data":{"name":"c"},"transform":[{"filter":"datum.p == 'PQ1'"}],"mark":{"type":"line","color":"#ff0000","strokeWidth":2.2,"interpolate":"monotone","clip":true},
  "encoding":{
   "x":{"field":"x","type":"quantitative","scale":{"domain":[-0.2,0.2],"nice":false,"zero":false},"axis":{"orient":"bottom","values":[-0.2,-0.18,-0.16,-0.14,-0.12,-0.1,-0.08,-0.06,-0.04,-0.02,0,0.02,0.04,0.06,0.08,0.1,0.12,0.14,0.16,0.18,0.2],"format":".1f","labelExpr":"abs(datum.value/0.1-round(datum.value/0.1))<1e-6 ? datum.label : ''","tickSize":{"condition":{"test":"abs(datum.value/0.1-round(datum.value/0.1))<1e-6","value":-8},"value":-4},"labelPadding":11,"title":null}},
   "y":{"field":"y","type":"quantitative","scale":{"domain":[0,10],"nice":false},"axis":{"orient":"left","values":[0,0.5,1,1.5,2,2.5,3,3.5,4,4.5,5,5.5,6,6.5,7,7.5,8,8.5,9,9.5,10],"labels":false,"tickSize":{"condition":{"test":"datum.value % 2 == 0","value":-8},"value":-4},"title":null}},
   "strokeDash":{"field":"s","type":"nominal","scale":{"domain":["O","N"],"range":[[5,3],[1,0]]}}}},
 {"data":{"values":[{}]},"mark":{"type":"text","text":"f","font":"Liberation Serif","fontStyle":"italic","fontSize":21,"align":"left","baseline":"alphabetic"},
  "encoding":{"x":{"datum":-0.028,"type":"quantitative","axis":{"orient":"top","values":[-0.2,-0.18,-0.16,-0.14,-0.12,-0.1,-0.08,-0.06,-0.04,-0.02,0,0.02,0.04,0.06,0.08,0.1,0.12,0.14,0.16,0.18,0.2],"labels":false,"tickSize":{"condition":{"test":"abs(datum.value/0.1-round(datum.value/0.1))<1e-6","value":-8},"value":-4},"title":null}},
   "y":{"datum":7.1,"type":"quantitative","axis":{"orient":"right","values":[0,0.5,1,1.5,2,2.5,3,3.5,4,4.5,5,5.5,6,6.5,7,7.5,8,8.5,9,9.5,10],"labels":false,"tickSize":{"condition":{"test":"datum.value % 2 == 0","value":-8},"value":-4},"title":null}}}},
 {"data":{"values":[{}]},"mark":{"type":"text","text":"Φ, Q","font":"Liberation Serif","fontStyle":"italic","fontSize":14,"align":"left","baseline":"alphabetic","dx":10,"dy":6},
  "encoding":{"x":{"datum":-0.028,"type":"quantitative","axis":null},"y":{"datum":7.1,"type":"quantitative","axis":null}}},
 {"data":{"values":[{}]},"mark":{"type":"text","text":"(1)","font":"Liberation Serif","fontSize":14,"align":"left","baseline":"alphabetic","dx":10,"dy":-13},
  "encoding":{"x":{"datum":-0.028,"type":"quantitative","axis":null},"y":{"datum":7.1,"type":"quantitative","axis":null}}}
],"resolve":{"axis":{"x":"independent","y":"independent"}}},

{"width":183,"height":135,"layer":[
 {"data":{"name":"c"},"transform":[{"filter":"datum.p == 'PQ3'"}],"mark":{"type":"line","color":"#ff0000","strokeWidth":2.2,"interpolate":"monotone","clip":true},
  "encoding":{
   "x":{"field":"x","type":"quantitative","scale":{"domain":[-0.62,0.545],"nice":false,"zero":false},"axis":{"orient":"bottom","values":[-0.6,-0.5,-0.4,-0.3,-0.2,-0.1,0,0.1,0.2,0.3,0.4,0.5],"format":".1f","labelExpr":"abs(datum.value/0.5-round(datum.value/0.5))<1e-6 ? datum.label : ''","tickSize":{"condition":{"test":"abs(datum.value/0.5-round(datum.value/0.5))<1e-6","value":-8},"value":-4},"labelPadding":11,"title":null}},
   "y":{"field":"y","type":"quantitative","scale":{"domain":[0,10],"nice":false},"axis":{"orient":"left","values":[0,0.5,1,1.5,2,2.5,3,3.5,4,4.5,5,5.5,6,6.5,7,7.5,8,8.5,9,9.5,10],"labels":false,"tickSize":{"condition":{"test":"datum.value % 2 == 0","value":-8},"value":-4},"title":null}},
   "strokeDash":{"field":"s","type":"nominal","scale":{"domain":["O","N"],"range":[[5,3],[1,0]]}}}},
 {"data":{"values":[{}]},"mark":{"type":"text","text":"f","font":"Liberation Serif","fontStyle":"italic","fontSize":21,"align":"left","baseline":"alphabetic"},
  "encoding":{"x":{"datum":-0.196,"type":"quantitative","axis":{"orient":"top","values":[-0.6,-0.5,-0.4,-0.3,-0.2,-0.1,0,0.1,0.2,0.3,0.4,0.5],"labels":false,"tickSize":{"condition":{"test":"abs(datum.value/0.5-round(datum.value/0.5))<1e-6","value":-8},"value":-4},"title":null}},
   "y":{"datum":7.1,"type":"quantitative","axis":{"orient":"right","values":[0,0.5,1,1.5,2,2.5,3,3.5,4,4.5,5,5.5,6,6.5,7,7.5,8,8.5,9,9.5,10],"labels":false,"tickSize":{"condition":{"test":"datum.value % 2 == 0","value":-8},"value":-4},"title":null}}}},
 {"data":{"values":[{}]},"mark":{"type":"text","text":"Φ, Q","font":"Liberation Serif","fontStyle":"italic","fontSize":14,"align":"left","baseline":"alphabetic","dx":10,"dy":6},
  "encoding":{"x":{"datum":-0.196,"type":"quantitative","axis":null},"y":{"datum":7.1,"type":"quantitative","axis":null}}},
 {"data":{"values":[{}]},"mark":{"type":"text","text":"(3)","font":"Liberation Serif","fontSize":14,"align":"left","baseline":"alphabetic","dx":10,"dy":-13},
  "encoding":{"x":{"datum":-0.196,"type":"quantitative","axis":null},"y":{"datum":7.1,"type":"quantitative","axis":null}}}
],"resolve":{"axis":{"x":"independent","y":"independent"}}},

{"width":183,"height":135,"layer":[
 {"data":{"name":"c"},"transform":[{"filter":"datum.p == 'Pu'"}],"mark":{"type":"line","color":"#ff0000","strokeWidth":2.2,"interpolate":"monotone","clip":true},
  "encoding":{
   "x":{"field":"x","type":"quantitative","scale":{"domain":[-0.76,0.545],"nice":false,"zero":false},"axis":{"orient":"bottom","values":[-0.7,-0.6,-0.5,-0.4,-0.3,-0.2,-0.1,0,0.1,0.2,0.3,0.4,0.5],"format":".1f","labelExpr":"abs(datum.value/0.5-round(datum.value/0.5))<1e-6 ? datum.label : ''","tickSize":{"condition":{"test":"abs(datum.value/0.5-round(datum.value/0.5))<1e-6","value":-8},"value":-4},"labelPadding":11,"title":null}},
   "y":{"field":"y","type":"quantitative","scale":{"domain":[0,10],"nice":false},"axis":{"orient":"left","values":[0,0.5,1,1.5,2,2.5,3,3.5,4,4.5,5,5.5,6,6.5,7,7.5,8,8.5,9,9.5,10],"labels":false,"tickSize":{"condition":{"test":"datum.value % 2 == 0","value":-8},"value":-4},"title":null}},
   "strokeDash":{"field":"s","type":"nominal","scale":{"domain":["O","N"],"range":[[5,3],[1,0]]}}}},
 {"data":{"values":[{}]},"mark":{"type":"text","text":"f","font":"Liberation Serif","fontStyle":"italic","fontSize":21,"align":"left","baseline":"alphabetic"},
  "encoding":{"x":{"datum":-0.19,"type":"quantitative","axis":{"orient":"top","values":[-0.7,-0.6,-0.5,-0.4,-0.3,-0.2,-0.1,0,0.1,0.2,0.3,0.4,0.5],"labels":false,"tickSize":{"condition":{"test":"abs(datum.value/0.5-round(datum.value/0.5))<1e-6","value":-8},"value":-4},"title":null}},
   "y":{"datum":7.1,"type":"quantitative","axis":{"orient":"right","values":[0,0.5,1,1.5,2,2.5,3,3.5,4,4.5,5,5.5,6,6.5,7,7.5,8,8.5,9,9.5,10],"labels":false,"tickSize":{"condition":{"test":"datum.value % 2 == 0","value":-8},"value":-4},"title":null}}}},
 {"data":{"values":[{}]},"mark":{"type":"text","text":"Φ, u","font":"Liberation Serif","fontStyle":"italic","fontSize":14,"align":"left","baseline":"alphabetic","dx":10,"dy":6},
  "encoding":{"x":{"datum":-0.19,"type":"quantitative","axis":null},"y":{"datum":7.1,"type":"quantitative","axis":null}}},
 {"data":{"values":[{}]},"mark":{"type":"text","text":"(1)","font":"Liberation Serif","fontSize":14,"align":"left","baseline":"alphabetic","dx":10,"dy":-13},
  "encoding":{"x":{"datum":-0.19,"type":"quantitative","axis":null},"y":{"datum":7.1,"type":"quantitative","axis":null}}}
],"resolve":{"axis":{"x":"independent","y":"independent"}}},

{"width":183,"height":135,"layer":[
 {"data":{"name":"c"},"transform":[{"filter":"datum.p == 'Pd'"}],"mark":{"type":"line","color":"#ff0000","strokeWidth":2.2,"interpolate":"monotone","clip":true},
  "encoding":{
   "x":{"field":"x","type":"quantitative","scale":{"domain":[-1.5,0.2],"nice":false,"zero":false},"axis":{"orient":"bottom","values":[-1.5,-1.4,-1.3,-1.2,-1.1,-1,-0.9,-0.8,-0.7,-0.6,-0.5,-0.4,-0.3,-0.2,-0.1,0,0.1,0.2],"format":".1f","labelExpr":"abs(datum.value/0.5-round(datum.value/0.5))<1e-6 ? datum.label : ''","tickSize":{"condition":{"test":"abs(datum.value/0.5-round(datum.value/0.5))<1e-6","value":-8},"value":-4},"labelPadding":11,"title":null}},
   "y":{"field":"y","type":"quantitative","scale":{"domain":[0,10],"nice":false},"axis":{"orient":"left","values":[0,0.5,1,1.5,2,2.5,3,3.5,4,4.5,5,5.5,6,6.5,7,7.5,8,8.5,9,9.5,10],"format":".0f","labelExpr":"datum.value % 2 == 0 ? datum.label : ''","tickSize":{"condition":{"test":"datum.value % 2 == 0","value":-8},"value":-4},"labelPadding":11,"title":"Δχ²","titlePadding":2}},
   "strokeDash":{"field":"s","type":"nominal","scale":{"domain":["O","N"],"range":[[5,3],[1,0]]}}}},
 {"data":{"values":[{}]},"mark":{"type":"text","text":"f","font":"Liberation Serif","fontStyle":"italic","fontSize":21,"align":"left","baseline":"alphabetic"},
  "encoding":{"x":{"datum":-0.589,"type":"quantitative","axis":{"orient":"top","values":[-1.5,-1.4,-1.3,-1.2,-1.1,-1,-0.9,-0.8,-0.7,-0.6,-0.5,-0.4,-0.3,-0.2,-0.1,0,0.1,0.2],"labels":false,"tickSize":{"condition":{"test":"abs(datum.value/0.5-round(datum.value/0.5))<1e-6","value":-8},"value":-4},"title":null}},
   "y":{"datum":7.1,"type":"quantitative","axis":{"orient":"right","values":[0,0.5,1,1.5,2,2.5,3,3.5,4,4.5,5,5.5,6,6.5,7,7.5,8,8.5,9,9.5,10],"labels":false,"tickSize":{"condition":{"test":"datum.value % 2 == 0","value":-8},"value":-4},"title":null}}}},
 {"data":{"values":[{}]},"mark":{"type":"text","text":"Φ, d","font":"Liberation Serif","fontStyle":"italic","fontSize":14,"align":"left","baseline":"alphabetic","dx":10,"dy":6},
  "encoding":{"x":{"datum":-0.589,"type":"quantitative","axis":null},"y":{"datum":7.1,"type":"quantitative","axis":null}}},
 {"data":{"values":[{}]},"mark":{"type":"text","text":"(1)","font":"Liberation Serif","fontSize":14,"align":"left","baseline":"alphabetic","dx":10,"dy":-13},
  "encoding":{"x":{"datum":-0.589,"type":"quantitative","axis":null},"y":{"datum":7.1,"type":"quantitative","axis":null}}}
],"resolve":{"axis":{"x":"independent","y":"independent"}}},

{"width":183,"height":135,"layer":[
 {"data":{"name":"c"},"transform":[{"filter":"datum.p == 'Pe'"}],"mark":{"type":"line","color":"#ff0000","strokeWidth":2.2,"interpolate":"monotone","clip":true},
  "encoding":{
   "x":{"field":"x","type":"quantitative","scale":{"domain":[-0.1,0.1],"nice":false,"zero":false},"axis":{"orient":"bottom","values":[-0.1,-0.09,-0.08,-0.07,-0.06,-0.05,-0.04,-0.03,-0.02,-0.01,0,0.01,0.02,0.03,0.04,0.05,0.06,0.07,0.08,0.09,0.1],"format":".2f","labelExpr":"abs(datum.value/0.05-round(datum.value/0.05))<1e-6 ? datum.label : ''","tickSize":{"condition":{"test":"abs(datum.value/0.05-round(datum.value/0.05))<1e-6","value":-8},"value":-4},"labelPadding":11,"title":null}},
   "y":{"field":"y","type":"quantitative","scale":{"domain":[0,10],"nice":false},"axis":{"orient":"left","values":[0,0.5,1,1.5,2,2.5,3,3.5,4,4.5,5,5.5,6,6.5,7,7.5,8,8.5,9,9.5,10],"labels":false,"tickSize":{"condition":{"test":"datum.value % 2 == 0","value":-8},"value":-4},"title":null}},
   "strokeDash":{"field":"s","type":"nominal","scale":{"domain":["O","N"],"range":[[5,3],[1,0]]}}}},
 {"data":{"values":[{}]},"mark":{"type":"text","text":"f","font":"Liberation Serif","fontStyle":"italic","fontSize":21,"align":"left","baseline":"alphabetic"},
  "encoding":{"x":{"datum":-0.047,"type":"quantitative","axis":{"orient":"top","values":[-0.1,-0.09,-0.08,-0.07,-0.06,-0.05,-0.04,-0.03,-0.02,-0.01,0,0.01,0.02,0.03,0.04,0.05,0.06,0.07,0.08,0.09,0.1],"labels":false,"tickSize":{"condition":{"test":"abs(datum.value/0.05-round(datum.value/0.05))<1e-6","value":-8},"value":-4},"title":null}},
   "y":{"datum":7.1,"type":"quantitative","axis":{"orient":"right","values":[0,0.5,1,1.5,2,2.5,3,3.5,4,4.5,5,5.5,6,6.5,7,7.5,8,8.5,9,9.5,10],"labels":false,"tickSize":{"condition":{"test":"datum.value % 2 == 0","value":-8},"value":-4},"title":null}}}},
 {"data":{"values":[{}]},"mark":{"type":"text","text":"Φ, e","font":"Liberation Serif","fontStyle":"italic","fontSize":14,"align":"left","baseline":"alphabetic","dx":10,"dy":6},
  "encoding":{"x":{"datum":-0.047,"type":"quantitative","axis":null},"y":{"datum":7.1,"type":"quantitative","axis":null}}},
 {"data":{"values":[{}]},"mark":{"type":"text","text":"(1)","font":"Liberation Serif","fontSize":14,"align":"left","baseline":"alphabetic","dx":10,"dy":-13},
  "encoding":{"x":{"datum":-0.047,"type":"quantitative","axis":null},"y":{"datum":7.1,"type":"quantitative","axis":null}}}
],"resolve":{"axis":{"x":"independent","y":"independent"}}},

{"width":183,"height":135,"layer":[
 {"data":{"values":[{}]},"mark":{"type":"text","text":"f","font":"Liberation Serif","fontStyle":"italic","fontSize":21,"align":"left","baseline":"alphabetic"},
  "encoding":{
   "x":{"datum":-0.1,"type":"quantitative","scale":{"domain":[-0.25,0.25],"nice":false,"zero":false},"axis":{"orient":"bottom","values":[-0.24,-0.22,-0.2,-0.18,-0.16,-0.14,-0.12,-0.1,-0.08,-0.06,-0.04,-0.02,0,0.02,0.04,0.06,0.08,0.1,0.12,0.14,0.16,0.18,0.2,0.22,0.24],"format":".1f","labelExpr":"abs(datum.value/0.1-round(datum.value/0.1))<1e-6 ? datum.label : ''","tickSize":{"condition":{"test":"abs(datum.value/0.1-round(datum.value/0.1))<1e-6","value":-8},"value":-4},"labelPadding":11,"title":null}},
   "y":{"datum":7.1,"type":"quantitative","scale":{"domain":[0,10],"nice":false},"axis":{"orient":"left","values":[0,0.5,1,1.5,2,2.5,3,3.5,4,4.5,5,5.5,6,6.5,7,7.5,8,8.5,9,9.5,10],"labels":false,"tickSize":{"condition":{"test":"datum.value % 2 == 0","value":-8},"value":-4},"title":null}}}},
 {"data":{"values":[{}]},"mark":{"type":"text","text":"Φ, ud","font":"Liberation Serif","fontStyle":"italic","fontSize":14,"align":"left","baseline":"alphabetic","dx":10,"dy":6},
  "encoding":{"x":{"datum":-0.1,"type":"quantitative","axis":{"orient":"top","values":[-0.24,-0.22,-0.2,-0.18,-0.16,-0.14,-0.12,-0.1,-0.08,-0.06,-0.04,-0.02,0,0.02,0.04,0.06,0.08,0.1,0.12,0.14,0.16,0.18,0.2,0.22,0.24],"labels":false,"tickSize":{"condition":{"test":"abs(datum.value/0.1-round(datum.value/0.1))<1e-6","value":-8},"value":-4},"title":null}},
   "y":{"datum":7.1,"type":"quantitative","axis":{"orient":"right","values":[0,0.5,1,1.5,2,2.5,3,3.5,4,4.5,5,5.5,6,6.5,7,7.5,8,8.5,9,9.5,10],"labels":false,"tickSize":{"condition":{"test":"datum.value % 2 == 0","value":-8},"value":-4},"title":null}}}},
 {"data":{"values":[{}]},"mark":{"type":"text","text":"(1)","font":"Liberation Serif","fontSize":14,"align":"left","baseline":"alphabetic","dx":10,"dy":-13},
  "encoding":{"x":{"datum":-0.1,"type":"quantitative","axis":null},"y":{"datum":7.1,"type":"quantitative","axis":null}}}
],"resolve":{"axis":{"x":"independent","y":"independent"}}},

{"width":183,"height":135,"layer":[
 {"data":{"name":"c"},"transform":[{"filter":"datum.p == 'LLLL'"}],"mark":{"type":"line","color":"#ff0000","strokeWidth":2.2,"interpolate":"monotone","clip":true},
  "encoding":{
   "x":{"field":"x","type":"quantitative","scale":{"domain":[-0.08,0.04],"nice":false,"zero":false},"axis":{"orient":"bottom","values":[-0.08,-0.07,-0.06,-0.05,-0.04,-0.03,-0.02,-0.01,0,0.01,0.02,0.03,0.04],"format":".2f","labelExpr":"abs(datum.value/0.04-round(datum.value/0.04))<1e-6 ? datum.label : ''","tickSize":{"condition":{"test":"abs(datum.value/0.04-round(datum.value/0.04))<1e-6","value":-8},"value":-4},"labelPadding":11,"title":null}},
   "y":{"field":"y","type":"quantitative","scale":{"domain":[0,10],"nice":false},"axis":{"orient":"left","values":[0,0.5,1,1.5,2,2.5,3,3.5,4,4.5,5,5.5,6,6.5,7,7.5,8,8.5,9,9.5,10],"labels":false,"tickSize":{"condition":{"test":"datum.value % 2 == 0","value":-8},"value":-4},"title":null}},
   "strokeDash":{"field":"s","type":"nominal","scale":{"domain":["O","N"],"range":[[5,3],[1,0]]}}}},
 {"data":{"values":[{}]},"mark":{"type":"text","text":"f","font":"Liberation Serif","fontStyle":"italic","fontSize":21,"align":"left","baseline":"alphabetic"},
  "encoding":{"x":{"datum":-0.0197,"type":"quantitative","axis":{"orient":"top","values":[-0.08,-0.07,-0.06,-0.05,-0.04,-0.03,-0.02,-0.01,0,0.01,0.02,0.03,0.04],"labels":false,"tickSize":{"condition":{"test":"abs(datum.value/0.04-round(datum.value/0.04))<1e-6","value":-8},"value":-4},"title":null}},
   "y":{"datum":7.1,"type":"quantitative","axis":{"orient":"right","values":[0,0.5,1,1.5,2,2.5,3,3.5,4,4.5,5,5.5,6,6.5,7,7.5,8,8.5,9,9.5,10],"labels":false,"tickSize":{"condition":{"test":"datum.value % 2 == 0","value":-8},"value":-4},"title":null}}}},
 {"data":{"values":[{}]},"mark":{"type":"text","text":"LLLL","font":"Liberation Serif","fontStyle":"italic","fontSize":14,"align":"left","baseline":"alphabetic","dx":10,"dy":5},
  "encoding":{"x":{"datum":-0.0197,"type":"quantitative","axis":null},"y":{"datum":7.1,"type":"quantitative","axis":null}}}
],"resolve":{"axis":{"x":"independent","y":"independent"}}},

{"width":183,"height":135,"layer":[
 {"data":{"name":"c"},"transform":[{"filter":"datum.p == 'tG'"}],"mark":{"type":"line","color":"#ff0000","strokeWidth":2.2,"interpolate":"monotone","clip":true},
  "encoding":{
   "x":{"field":"x","type":"quantitative","scale":{"domain":[-0.5,1],"nice":false,"zero":false},"axis":{"orient":"bottom","values":[-0.5,-0.4,-0.3,-0.2,-0.1,0,0.1,0.2,0.3,0.4,0.5,0.6,0.7,0.8,0.9,1],"format":".1f","labelExpr":"abs(datum.value/0.5-round(datum.value/0.5))<1e-6 ? datum.label : ''","tickSize":{"condition":{"test":"abs(datum.value/0.5-round(datum.value/0.5))<1e-6","value":-8},"value":-4},"labelPadding":11,"title":null}},
   "y":{"field":"y","type":"quantitative","scale":{"domain":[0,10],"nice":false},"axis":{"orient":"left","values":[0,0.5,1,1.5,2,2.5,3,3.5,4,4.5,5,5.5,6,6.5,7,7.5,8,8.5,9,9.5,10],"format":".0f","labelExpr":"datum.value % 2 == 0 ? datum.label : ''","tickSize":{"condition":{"test":"datum.value % 2 == 0","value":-8},"value":-4},"labelPadding":11,"title":"Δχ²","titlePadding":2}},
   "strokeDash":{"field":"s","type":"nominal","scale":{"domain":["O","N"],"range":[[5,3],[1,0]]}}}},
 {"data":{"values":[{}]},"mark":{"type":"text","text":"f","font":"Liberation Serif","fontStyle":"italic","fontSize":21,"align":"left","baseline":"alphabetic"},
  "encoding":{"x":{"datum":-0.008,"type":"quantitative","axis":{"orient":"top","values":[-0.5,-0.4,-0.3,-0.2,-0.1,0,0.1,0.2,0.3,0.4,0.5,0.6,0.7,0.8,0.9,1],"labels":false,"tickSize":{"condition":{"test":"abs(datum.value/0.5-round(datum.value/0.5))<1e-6","value":-8},"value":-4},"title":null}},
   "y":{"datum":7.1,"type":"quantitative","axis":{"orient":"right","values":[0,0.5,1,1.5,2,2.5,3,3.5,4,4.5,5,5.5,6,6.5,7,7.5,8,8.5,9,9.5,10],"labels":false,"tickSize":{"condition":{"test":"datum.value % 2 == 0","value":-8},"value":-4},"title":null}}}},
 {"data":{"values":[{}]},"mark":{"type":"text","text":"tG","font":"Liberation Serif","fontStyle":"italic","fontSize":14,"align":"left","baseline":"alphabetic","dx":10,"dy":5},
  "encoding":{"x":{"datum":-0.008,"type":"quantitative","axis":null},"y":{"datum":7.1,"type":"quantitative","axis":null}}}
],"resolve":{"axis":{"x":"independent","y":"independent"}}},

{"width":183,"height":135,"layer":[
 {"data":{"name":"c"},"transform":[{"filter":"datum.p == 'b'"}],"mark":{"type":"line","color":"#ff0000","strokeWidth":2.2,"interpolate":"monotone","clip":true},
  "encoding":{
   "x":{"field":"x","type":"quantitative","scale":{"domain":[-10.2,10],"nice":false,"zero":false},"axis":{"orient":"bottom","values":[-9.75,-9,-8.25,-7.5,-6.75,-6,-5.25,-4.5,-3.75,-3,-2.25,-1.5,-0.75,0,0.75,1.5,2.25,3,3.75,4.5,5.25,6,6.75,7.5,8.25,9,9.75],"format":".0f","labelExpr":"abs(datum.value/3-round(datum.value/3))<1e-6 ? datum.label : ''","tickSize":{"condition":{"test":"abs(datum.value/3-round(datum.value/3))<1e-6","value":-8},"value":-4},"labelPadding":11,"title":null}},
   "y":{"field":"y","type":"quantitative","scale":{"domain":[0,10],"nice":false},"axis":{"orient":"left","values":[0,0.5,1,1.5,2,2.5,3,3.5,4,4.5,5,5.5,6,6.5,7,7.5,8,8.5,9,9.5,10],"labels":false,"tickSize":{"condition":{"test":"datum.value % 2 == 0","value":-8},"value":-4},"title":null}},
   "strokeDash":{"field":"s","type":"nominal","scale":{"domain":["O","N"],"range":[[5,3],[1,0]]}}}},
 {"data":{"values":[{}]},"mark":{"type":"text","text":"f","font":"Liberation Serif","fontStyle":"italic","fontSize":21,"align":"left","baseline":"alphabetic"},
  "encoding":{"x":{"datum":-0.94,"type":"quantitative","axis":{"orient":"top","values":[-9.75,-9,-8.25,-7.5,-6.75,-6,-5.25,-4.5,-3.75,-3,-2.25,-1.5,-0.75,0,0.75,1.5,2.25,3,3.75,4.5,5.25,6,6.75,7.5,8.25,9,9.75],"labels":false,"tickSize":{"condition":{"test":"abs(datum.value/3-round(datum.value/3))<1e-6","value":-8},"value":-4},"title":null}},
   "y":{"datum":-2.55,"type":"quantitative","axis":{"orient":"right","values":[0,0.5,1,1.5,2,2.5,3,3.5,4,4.5,5,5.5,6,6.5,7,7.5,8,8.5,9,9.5,10],"labels":false,"tickSize":{"condition":{"test":"datum.value % 2 == 0","value":-8},"value":-4},"title":null}}}},
 {"data":{"values":[{}]},"mark":{"type":"text","text":"b","font":"Liberation Serif","fontStyle":"italic","fontSize":14,"align":"left","baseline":"alphabetic","dx":10,"dy":5},
  "encoding":{"x":{"datum":-0.94,"type":"quantitative","axis":null},"y":{"datum":-2.55,"type":"quantitative","axis":null}}}
],"resolve":{"axis":{"x":"independent","y":"independent"}}},

{"width":183,"height":135,"layer":[
 {"data":{"name":"c"},"transform":[{"filter":"datum.p == 't'"}],"mark":{"type":"line","color":"#ff0000","strokeWidth":2.2,"interpolate":"monotone","clip":true},
  "encoding":{
   "x":{"field":"x","type":"quantitative","scale":{"domain":[-15.7,15.5],"nice":false,"zero":false},"axis":{"orient":"bottom","values":[-14,-12,-10,-8,-6,-4,-2,0,2,4,6,8,10,12,14],"format":".0f","labelExpr":"abs(datum.value/10-round(datum.value/10))<1e-6 ? datum.label : ''","tickSize":{"condition":{"test":"abs(datum.value/10-round(datum.value/10))<1e-6","value":-8},"value":-4},"labelPadding":11,"title":null}},
   "y":{"field":"y","type":"quantitative","scale":{"domain":[0,10],"nice":false},"axis":{"orient":"left","values":[0,0.5,1,1.5,2,2.5,3,3.5,4,4.5,5,5.5,6,6.5,7,7.5,8,8.5,9,9.5,10],"labels":false,"tickSize":{"condition":{"test":"datum.value % 2 == 0","value":-8},"value":-4},"title":null}},
   "strokeDash":{"field":"s","type":"nominal","scale":{"domain":["O","N"],"range":[[5,3],[1,0]]}}}},
 {"data":{"values":[{}]},"mark":{"type":"text","text":"f","font":"Liberation Serif","fontStyle":"italic","fontSize":21,"align":"left","baseline":"alphabetic"},
  "encoding":{"x":{"datum":-1.36,"type":"quantitative","axis":{"orient":"top","values":[-14,-12,-10,-8,-6,-4,-2,0,2,4,6,8,10,12,14],"labels":false,"tickSize":{"condition":{"test":"abs(datum.value/10-round(datum.value/10))<1e-6","value":-8},"value":-4},"title":null}},
   "y":{"datum":-2.55,"type":"quantitative","axis":{"orient":"right","values":[0,0.5,1,1.5,2,2.5,3,3.5,4,4.5,5,5.5,6,6.5,7,7.5,8,8.5,9,9.5,10],"labels":false,"tickSize":{"condition":{"test":"datum.value % 2 == 0","value":-8},"value":-4},"title":null}}}},
 {"data":{"values":[{}]},"mark":{"type":"text","text":"t","font":"Liberation Serif","fontStyle":"italic","fontSize":14,"align":"left","baseline":"alphabetic","dx":10,"dy":5},
  "encoding":{"x":{"datum":-1.36,"type":"quantitative","axis":null},"y":{"datum":-2.55,"type":"quantitative","axis":null}}}
],"resolve":{"axis":{"x":"independent","y":"independent"}}},

{"width":183,"height":135,"layer":[
 {"data":{"name":"c"},"transform":[{"filter":"datum.p == 'tau'"}],"mark":{"type":"line","color":"#ff0000","strokeWidth":2.2,"interpolate":"monotone","clip":true},
  "encoding":{
   "x":{"field":"x","type":"quantitative","scale":{"domain":[-10.1,10.1],"nice":false,"zero":false},"axis":{"orient":"bottom","values":[-9.75,-9,-8.25,-7.5,-6.75,-6,-5.25,-4.5,-3.75,-3,-2.25,-1.5,-0.75,0,0.75,1.5,2.25,3,3.75,4.5,5.25,6,6.75,7.5,8.25,9,9.75],"format":".0f","labelExpr":"abs(datum.value/3-round(datum.value/3))<1e-6 ? datum.label : ''","tickSize":{"condition":{"test":"abs(datum.value/3-round(datum.value/3))<1e-6","value":-8},"value":-4},"labelPadding":11,"title":null}},
   "y":{"field":"y","type":"quantitative","scale":{"domain":[0,10],"nice":false},"axis":{"orient":"left","values":[0,0.5,1,1.5,2,2.5,3,3.5,4,4.5,5,5.5,6,6.5,7,7.5,8,8.5,9,9.5,10],"labels":false,"tickSize":{"condition":{"test":"datum.value % 2 == 0","value":-8},"value":-4},"title":null}},
   "strokeDash":{"field":"s","type":"nominal","scale":{"domain":["O","N"],"range":[[5,3],[1,0]]}}}},
 {"data":{"values":[{}]},"mark":{"type":"text","text":"f","font":"Liberation Serif","fontStyle":"italic","fontSize":21,"align":"left","baseline":"alphabetic"},
  "encoding":{"x":{"datum":-0.74,"type":"quantitative","axis":{"orient":"top","values":[-9.75,-9,-8.25,-7.5,-6.75,-6,-5.25,-4.5,-3.75,-3,-2.25,-1.5,-0.75,0,0.75,1.5,2.25,3,3.75,4.5,5.25,6,6.75,7.5,8.25,9,9.75],"labels":false,"tickSize":{"condition":{"test":"abs(datum.value/3-round(datum.value/3))<1e-6","value":-8},"value":-4},"title":null}},
   "y":{"datum":-2.55,"type":"quantitative","axis":{"orient":"right","values":[0,0.5,1,1.5,2,2.5,3,3.5,4,4.5,5,5.5,6,6.5,7,7.5,8,8.5,9,9.5,10],"labels":false,"tickSize":{"condition":{"test":"datum.value % 2 == 0","value":-8},"value":-4},"title":null}}}},
 {"data":{"values":[{}]},"mark":{"type":"text","text":"τ","font":"Liberation Serif","fontStyle":"italic","fontSize":14,"align":"left","baseline":"alphabetic","dx":10,"dy":5},
  "encoding":{"x":{"datum":-0.74,"type":"quantitative","axis":null},"y":{"datum":-2.55,"type":"quantitative","axis":null}}}
],"resolve":{"axis":{"x":"independent","y":"independent"}}},

{"width":183,"height":135,"layer":[
 {"data":{"name":"c"},"transform":[{"filter":"datum.p == 'mu'"}],"mark":{"type":"line","color":"#ff0000","strokeWidth":2.2,"interpolate":"monotone","clip":true},
  "encoding":{
   "x":{"field":"x","type":"quantitative","scale":{"domain":[-30,30],"nice":false,"zero":false},"axis":{"orient":"bottom","values":[-30,-28,-26,-24,-22,-20,-18,-16,-14,-12,-10,-8,-6,-4,-2,0,2,4,6,8,10,12,14,16,18,20,22,24,26,28,30],"format":".0f","labelExpr":"abs(datum.value/10-round(datum.value/10))<1e-6 ? datum.label : ''","tickSize":{"condition":{"test":"abs(datum.value/10-round(datum.value/10))<1e-6","value":-8},"value":-4},"labelPadding":11,"title":null}},
   "y":{"field":"y","type":"quantitative","scale":{"domain":[0,10],"nice":false},"axis":{"orient":"left","values":[0,0.5,1,1.5,2,2.5,3,3.5,4,4.5,5,5.5,6,6.5,7,7.5,8,8.5,9,9.5,10],"labels":false,"tickSize":{"condition":{"test":"datum.value % 2 == 0","value":-8},"value":-4},"title":"Δχ²","titlePadding":6}},
   "strokeDash":{"field":"s","type":"nominal","scale":{"domain":["O","N"],"range":[[5,3],[1,0]]}}}},
 {"data":{"values":[{}]},"mark":{"type":"text","text":"f","font":"Liberation Serif","fontStyle":"italic","fontSize":21,"align":"left","baseline":"alphabetic"},
  "encoding":{"x":{"datum":-2.79,"type":"quantitative","axis":{"orient":"top","values":[-30,-28,-26,-24,-22,-20,-18,-16,-14,-12,-10,-8,-6,-4,-2,0,2,4,6,8,10,12,14,16,18,20,22,24,26,28,30],"labels":false,"tickSize":{"condition":{"test":"abs(datum.value/10-round(datum.value/10))<1e-6","value":-8},"value":-4},"title":null}},
   "y":{"datum":-2.55,"type":"quantitative","axis":{"orient":"right","values":[0,0.5,1,1.5,2,2.5,3,3.5,4,4.5,5,5.5,6,6.5,7,7.5,8,8.5,9,9.5,10],"labels":false,"tickSize":{"condition":{"test":"datum.value % 2 == 0","value":-8},"value":-4},"title":null}}}},
 {"data":{"values":[{}]},"mark":{"type":"text","text":"μ","font":"Liberation Serif","fontStyle":"italic","fontSize":14,"align":"left","baseline":"alphabetic","dx":10,"dy":5},
  "encoding":{"x":{"datum":-2.79,"type":"quantitative","axis":null},"y":{"datum":-2.55,"type":"quantitative","axis":null}}}
],"resolve":{"axis":{"x":"independent","y":"independent"}}}
],
"config": {
 "view": {"stroke": "#000", "strokeWidth": 1},
 "axis": {"grid": false, "domain": false, "tickColor": "#000", "tickWidth": 1, "labelFont": "DejaVu Sans", "labelFontSize": 14, "labelColor": "#000", "labelFlush": false, "labelOverlap": false, "titleFont": "Liberation Serif", "titleFontSize": 18, "titleFontWeight": "normal", "titleColor": "#000"}
}
}
